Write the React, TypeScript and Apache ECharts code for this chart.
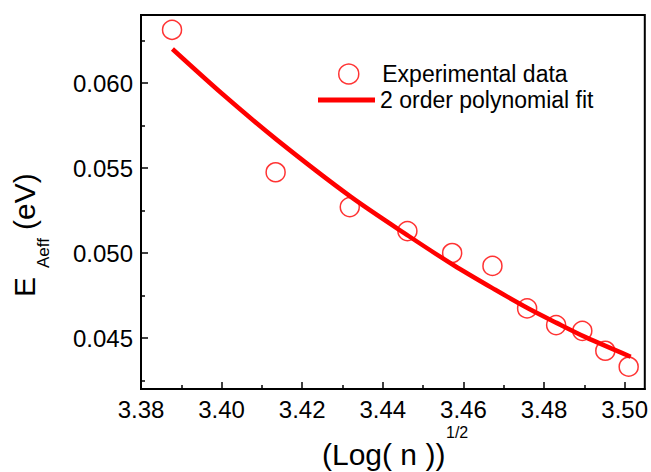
import React, { useEffect, useRef } from 'react';
import * as echarts from 'echarts';

const expX = [3.3877, 3.4134, 3.4318, 3.4461, 3.4572, 3.4672, 3.4758, 3.483, 3.4895, 3.4952, 3.501];
const expY = [0.06313, 0.05475, 0.0527, 0.05129, 0.05, 0.04924, 0.04674, 0.04576, 0.04542, 0.04425, 0.04331];

// 2nd order polynomial fit curve
const fitX = [3.3878, 3.4005, 3.4138, 3.4321, 3.4464, 3.4576, 3.4678, 3.476, 3.4831, 3.4903, 3.5015];
const fitY = [0.062, 0.05929, 0.05664, 0.0533, 0.051, 0.04928, 0.04785, 0.04675, 0.04589, 0.04505, 0.0439];

// Axis ticks
const xTicks = [3.38, 3.4, 3.42, 3.44, 3.46, 3.48, 3.5];
const xMinorTicks = [3.39, 3.41, 3.43, 3.45, 3.47, 3.49];
const yTicks = [0.045, 0.05, 0.055, 0.06];
const yMinorTicks = [0.0425, 0.0475, 0.0525, 0.0575, 0.0625];

const X_MIN = 3.38;
const X_MAX = 3.505;
const Y_MIN = 0.042;
const Y_MAX = 0.064;

const seriesNames = ['Experimental data', '2 order polynomial fit'];

const FONT = '"Liberation Sans", Arial, sans-serif';
const RED = '#ff0000';

export default function App() {
  const ref = useRef<HTMLDivElement>(null);

  useEffect(() => {
    if (!ref.current) return;
    const chart = echarts.init(ref.current, undefined, { renderer: 'svg' });

    const expData = expX.map((x, i) => [x, expY[i]]);
    const fitData = fitX.map((x, i) => [x, fitY[i]]);

    const tickLine = { color: '#000', width: 1.5 };

    chart.setOption({
      animation: false,
      backgroundColor: '#fff',
      grid: {
        show: true,
        borderColor: '#000',
        borderWidth: 2,
        backgroundColor: 'transparent',
        left: 141,
        top: 15,
        right: 3,
        bottom: 83,
      },
      xAxis: [
        {
          type: 'value',
          min: X_MIN,
          max: X_MAX,
          position: 'bottom',
          axisLine: { show: true, lineStyle: { color: '#000', width: 2 } },
          axisTick: { show: true, inside: true, length: 7, lineStyle: tickLine, customValues: xTicks },
          axisLabel: {
            customValues: xTicks,
            formatter: (v: number) => v.toFixed(2),
            fontSize: 24,
            fontFamily: FONT,
            color: '#000',
            margin: 8,
          },
          splitLine: { show: false },
        },
        {
          type: 'value',
          min: X_MIN,
          max: X_MAX,
          position: 'bottom',
          axisLine: { show: false },
          axisTick: { show: true, inside: true, length: 4, lineStyle: tickLine, customValues: xMinorTicks },
          axisLabel: { show: false },
          splitLine: { show: false },
        },
      ],
      yAxis: [
        {
          type: 'value',
          min: Y_MIN,
          max: Y_MAX,
          position: 'left',
          axisLine: { show: true, lineStyle: { color: '#000', width: 2 } },
          axisTick: { show: true, inside: true, length: 7, lineStyle: tickLine, customValues: yTicks },
          axisLabel: {
            customValues: yTicks,
            formatter: (v: number) => v.toFixed(3),
            fontSize: 24,
            fontFamily: FONT,
            color: '#000',
            margin: 8,
          },
          splitLine: { show: false },
        },
        {
          type: 'value',
          min: Y_MIN,
          max: Y_MAX,
          position: 'left',
          axisLine: { show: false },
          axisTick: { show: true, inside: true, length: 4, lineStyle: tickLine, customValues: yMinorTicks },
          axisLabel: { show: false },
          splitLine: { show: false },
        },
      ],
      legend: [
        {
          data: [seriesNames[0]],
          left: 338,
          top: 61,
          padding: 0,
          selectedMode: false,
          icon: 'circle',
          itemWidth: 57,
          itemHeight: 20,
          itemStyle: { color: 'transparent', borderColor: RED, borderWidth: 1.5 },
          textStyle: { fontSize: 23, fontFamily: FONT, color: '#000', lineHeight: 26 },
        },
        {
          data: [seriesNames[1]],
          left: 318,
          top: 87,
          padding: 0,
          selectedMode: false,
          icon: 'rect',
          itemWidth: 57,
          itemHeight: 5,
          itemStyle: { color: RED, borderWidth: 0 },
          textStyle: { fontSize: 23, fontFamily: FONT, color: '#000', lineHeight: 26 },
        },
      ],
      series: [
        {
          name: seriesNames[0],
          type: 'scatter',
          xAxisIndex: 0,
          yAxisIndex: 0,
          data: expData,
          symbol: 'circle',
          symbolSize: 19,
          itemStyle: { color: 'transparent', borderColor: RED, borderWidth: 1.5 },
          emphasis: { disabled: true },
        },
        {
          name: seriesNames[1],
          type: 'line',
          xAxisIndex: 0,
          yAxisIndex: 0,
          data: fitData,
          smooth: 0.3,
          showSymbol: false,
          symbol: 'none',
          color: RED,
          lineStyle: { color: RED, width: 4.5 },
          itemStyle: { color: RED },
          emphasis: { disabled: true },
        },
      ],
      graphic: [
        {
          type: 'text',
          x: 322,
          y: 454,
          style: {
            text: '(Log( n ))',
            fontSize: 30,
            fontFamily: FONT,
            fill: '#000',
            align: 'left',
            verticalAlign: 'middle',
          },
        },
        {
          type: 'text',
          x: 446,
          y: 432,
          style: {
            text: '1/2',
            fontSize: 16,
            fontFamily: FONT,
            fill: '#000',
            align: 'left',
            verticalAlign: 'middle',
          },
        },
        {
          type: 'group',
          x: 24,
          y: 235,
          rotation: Math.PI / 2,
          children: [
            {
              type: 'text',
              x: -62,
              y: 0,
              style: { text: 'E', fontSize: 30, fontFamily: FONT, fill: '#000', align: 'left', verticalAlign: 'middle' },
            },
            {
              type: 'text',
              x: -33,
              y: 19,
              style: { text: 'Aeff', fontSize: 17, fontFamily: FONT, fill: '#000', align: 'left', verticalAlign: 'middle' },
            },
            {
              type: 'text',
              x: 5,
              y: 0,
              style: { text: '(eV)', fontSize: 30, fontFamily: FONT, fill: '#000', align: 'left', verticalAlign: 'middle' },
            },
          ],
        },
      ],
    });

    return () => {
      chart.dispose();
    };
  }, []);

  return (
    <div
      ref={ref}
      style={{ position: 'fixed', left: 0, top: 0, width: 651, height: 472, background: '#fff' }}
    />
  );
}
